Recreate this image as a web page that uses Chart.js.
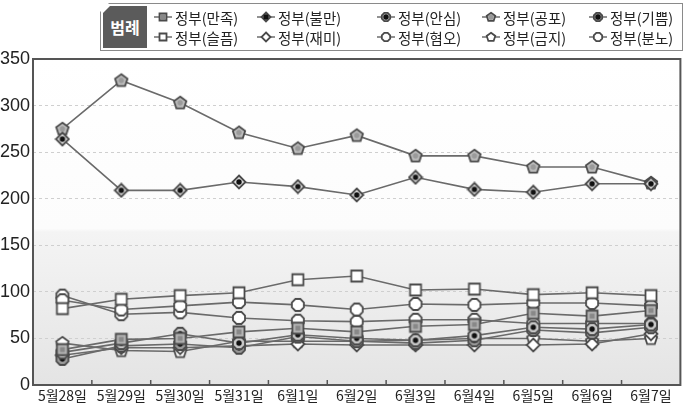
<!DOCTYPE html>
<html>
<head>
<meta charset="utf-8">
<script src="https://cdn.jsdelivr.net/npm/chart.js@4"></script>
<style>
  body { margin: 0; background: #fff; }
  #wrap { position: relative; width: 686px; height: 415px; }
  canvas#chart { position: absolute; left: 0; top: 0; }
  #legend {
    position: absolute; left: 100px; top: 3px; width: 581px; height: 46px;
    border: 1px solid #8a8a8a; background: #fff; box-shadow: 2px 2px 0 #d4d4d4;
    font-family: "Noto Sans CJK KR", sans-serif; font-size: 14.5px; color: #222;
    clip-path: polygon(9px 0, 100% 0, 100% 100%, 0 100%, 0 9px);
  }
  #legend .tag {
    position: absolute; left: 2px; top: 2px; width: 44px; height: 42px; background: #5b5b5b;
    color: #fff; font-weight: bold; font-size: 16px; line-height: 42px; text-align: center;
    clip-path: polygon(7px 0, 100% 0, 100% 100%, 0 100%, 0 7px);
  }
  #legend .item { position: absolute; display: flex; align-items: center; height: 20px; white-space: nowrap; }
  #legend .item canvas { margin-right: 2px; }
</style>
</head>
<body>
<div id="wrap">
  <canvas id="chart" width="686" height="415"></canvas>
  <div id="legend"><div class="tag">범례</div></div>
</div>
<script>
const dates = ['5월28일', '5월29일', '5월30일', '5월31일', '6월1일', '6월2일', '6월3일', '6월4일', '6월5일', '6월6일', '6월7일'];
const yTicks = [0, 50, 100, 150, 200, 250, 300, 350];

const manjok = [38, 49, 50, 57, 61, 57, 63, 65, 77, 74, 80];
const bulman = [264, 209, 209, 218, 213, 204, 223, 210, 207, 216, 216];
const ansim = [35, 45, 55, 45, 54, 50, 48, 53, 62, 60, 65];
const gongpo = [275, 327, 303, 271, 254, 268, 246, 246, 234, 234, 217];
const gippeum = [28, 42, 44, 40, 52, 47, 45, 48, 59, 56, 62];
const seulpeum = [82, 92, 96, 99, 113, 117, 102, 103, 97, 99, 96];
const jaemi = [32, 40, 40, 42, 44, 43, 43, 43, 43, 44, 55];
const hyeomo = [91, 81, 85, 89, 86, 81, 87, 86, 88, 88, 85];
const geumji = [45, 37, 36, 47, 47, 47, 48, 50, 50, 47, 50];
const bunno = [96, 76, 78, 72, 69, 68, 70, 70, 66, 66, 66];

// marker images
function marker(shape, fill, inner, size) {
  const c = document.createElement('canvas');
  c.width = size; c.height = size;
  const g = c.getContext('2d');
  const m = size / 2, r = size / 2 - 1.5;
  g.lineWidth = 1.8; g.strokeStyle = '#4a4a4a'; g.fillStyle = fill;
  g.beginPath();
  if (shape === 'square') {
    g.rect(m - r + 1, m - r + 1, 2 * r - 2, 2 * r - 2);
  } else if (shape === 'diamond') {
    g.moveTo(m, m - r); g.lineTo(m + r, m); g.lineTo(m, m + r); g.lineTo(m - r, m); g.closePath();
  } else if (shape === 'pentagon') {
    for (let i = 0; i < 5; i++) {
      const a = -Math.PI / 2 + i * 2 * Math.PI / 5;
      g.lineTo(m + r * Math.cos(a), m + 0.3 + r * Math.sin(a));
    }
    g.closePath();
  } else {
    for (let i = 0; i < 8; i++) {
      const a = Math.PI / 8 + i * Math.PI / 4;
      g.lineTo(m + r * Math.cos(a), m + r * Math.sin(a));
    }
    g.closePath();
  }
  g.fill(); g.stroke();
  if (inner) {
    g.fillStyle = inner;
    g.beginPath();
    if (shape === 'square') g.rect(m - 2.5, m - 2.5, 5, 5);
    else g.arc(m, m, 2.7, 0, Math.PI * 2);
    g.fill();
  }
  return c;
}

const series = [
  { label: '정부(만족)', data: manjok, shape: 'square', fill: '#b4b4b4', inner: '#888' },
  { label: '정부(불만)', data: bulman, shape: 'diamond', fill: '#d8d8d8', inner: '#111' },
  { label: '정부(안심)', data: ansim, shape: 'circle', fill: '#c8c8c8', inner: '#111' },
  { label: '정부(공포)', data: gongpo, shape: 'pentagon', fill: '#bdbdbd', inner: '#9a9a9a' },
  { label: '정부(기쁨)', data: gippeum, shape: 'circle', fill: '#9a9a9a', inner: '#111' },
  { label: '정부(슬픔)', data: seulpeum, shape: 'square', fill: '#fff', inner: null },
  { label: '정부(재미)', data: jaemi, shape: 'diamond', fill: '#fff', inner: null },
  { label: '정부(혐오)', data: hyeomo, shape: 'circle', fill: '#fff', inner: null },
  { label: '정부(금지)', data: geumji, shape: 'pentagon', fill: '#fff', inner: null },
  { label: '정부(분노)', data: bunno, shape: 'circle', fill: '#fff', inner: null }
];

// html legend
const legend = document.getElementById('legend');
const colX = [52, 155, 275, 380, 487];
series.forEach((s, i) => {
  const d = document.createElement('div');
  d.className = 'item';
  d.style.left = colX[i % 5] + 'px';
  d.style.top = (i < 5 ? 3 : 23) + 'px';
  const wrapC = document.createElement('canvas');
  wrapC.width = 20; wrapC.height = 14;
  const g = wrapC.getContext('2d');
  g.strokeStyle = '#555'; g.lineWidth = 1.3;
  g.beginPath(); g.moveTo(1, 7); g.lineTo(19, 7); g.stroke();
  g.drawImage(marker(s.shape, s.fill, s.inner, 12), 4, 1);
  d.appendChild(wrapC);
  const t = document.createElement('span');
  t.textContent = s.label;
  d.appendChild(t);
  legend.appendChild(d);
});

const bgPlugin = {
  id: 'bg',
  beforeDraw(chart) {
    const { ctx, chartArea: a } = chart;
    const grd = ctx.createLinearGradient(0, a.top, 0, a.bottom);
    grd.addColorStop(0, '#ffffff');
    grd.addColorStop(0.52, '#fcfcfc');
    grd.addColorStop(0.53, '#f4f4f4');
    grd.addColorStop(1, '#e4e4e4');
    ctx.save();
    ctx.fillStyle = grd;
    ctx.fillRect(a.left, a.top, a.right - a.left, a.bottom - a.top);
    ctx.restore();
  },
  afterDatasetsDraw(chart) {
    const { ctx, chartArea: a, scales } = chart;
    ctx.save();
    ctx.strokeStyle = '#555';
    ctx.lineWidth = 2;
    ctx.strokeRect(a.left, a.top, a.right - a.left, a.bottom - a.top);
    ctx.lineWidth = 1.5;
    const x = scales.x;
    for (let i = 1; i < dates.length; i++) {
      const px = (x.getPixelForValue(i - 1) + x.getPixelForValue(i)) / 2;
      ctx.beginPath(); ctx.moveTo(px, a.bottom); ctx.lineTo(px, a.bottom - 5); ctx.stroke();
    }
    ctx.restore();
  }
};

new Chart(document.getElementById('chart'), {
  type: 'line',
  data: {
    labels: dates,
    datasets: series.map(s => ({
      label: s.label,
      data: s.data,
      borderColor: '#6a6a6a',
      borderWidth: 1.6,
      tension: 0,
      pointStyle: marker(s.shape, s.fill, s.inner, 16),
      fill: false
    }))
  },
  options: {
    responsive: false,
    animation: false,
    layout: { padding: { top: 59, right: 5, left: 0, bottom: 0 } },
    plugins: { legend: { display: false }, tooltip: { enabled: false } },
    scales: {
      x: {
        offset: true,
        grid: { display: false, drawTicks: false },
        border: { display: false },
        ticks: { color: '#222', font: { family: '"Noto Sans CJK KR"', size: 14 }, padding: 2, maxRotation: 0 },
        afterFit(scale) { scale.height = 30; }
      },
      y: {
        min: 0, max: 350,
        afterBuildTicks(scale) { scale.ticks = yTicks.map(v => ({ value: v })); },
        grid: { color: '#cfcfcf', drawTicks: false },
        border: { display: true, color: 'rgba(0,0,0,0)', width: 0, dash: [3, 3] },
        ticks: { color: '#222', font: { family: '"Liberation Sans Narrow", "Liberation Sans"', size: 18 }, padding: 3 },
        afterFit(scale) { scale.width = 33; }
      }
    }
  },
  plugins: [bgPlugin]
});
</script>
</body>
</html>
